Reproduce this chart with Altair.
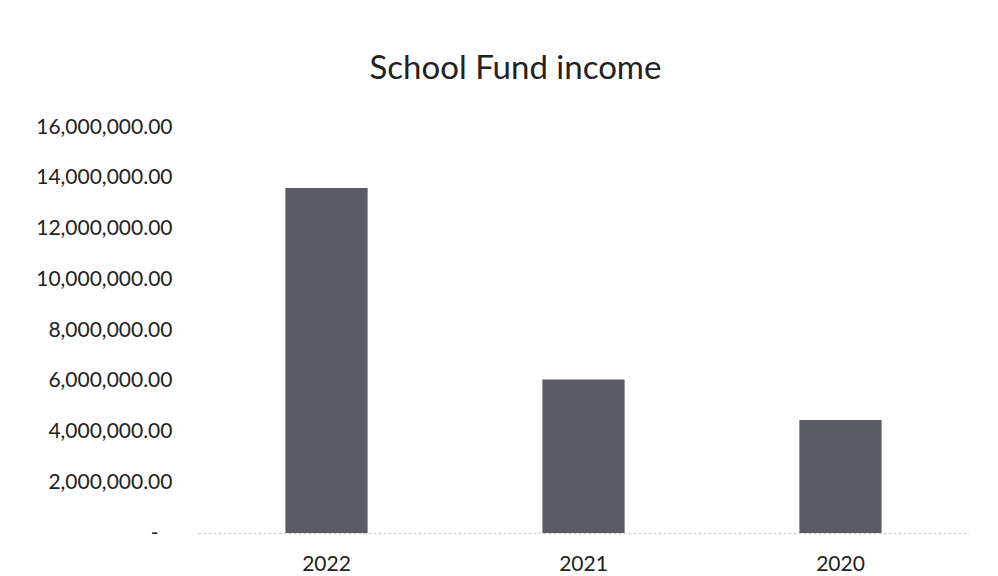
import altair as alt
import pandas as pd

years = ["2022", "2021", "2020"]
income = [13600000, 6050000, 4450000]
tick_values = [0, 2000000, 4000000, 6000000, 8000000, 10000000, 12000000, 14000000, 16000000]

df = pd.DataFrame({"year": years, "income": income})

chart = alt.Chart(df).mark_bar(color="#5b5b63").encode(
    x=alt.X("year:N", sort=years, title=None,
            scale=alt.Scale(paddingInner=0.68, paddingOuter=0.34),
            axis=alt.Axis(labelAngle=0, labelFont="Lato", labelFontSize=21, labelColor="#222222",
                          labelPadding=20, ticks=False, domain=True, domainColor="#d4d4d4",
                          domainDash=[3, 2], domainWidth=1.5)),
    y=alt.Y("income:Q", title=None,
            scale=alt.Scale(domain=[0, 16000000], nice=False),
            axis=alt.Axis(values=tick_values, grid=False, ticks=False, domain=False,
                          labelFont="Lato", labelFontSize=21, labelColor="#222222",
                          labelPadding={"condition": {"test": "datum.value == 0", "value": 40}, "value": 26},
                          labelExpr="datum.value == 0 ? '-' : format(datum.value, ',.2f')")),
).properties(
    width=771, height=406,
    background="white",
    title=alt.TitleParams("School Fund income", font="Lato", fontSize=33, fontWeight="normal",
                          color="#222222", dx=-68, offset=30),
    autosize=alt.AutoSizeParams(type="none"),
    padding={"left": 198, "top": 127, "right": 29, "bottom": 43},
).configure_view(stroke="transparent", strokeWidth=0)

chart.save("out.html", embed_options={"renderer": "svg", "actions": False})
